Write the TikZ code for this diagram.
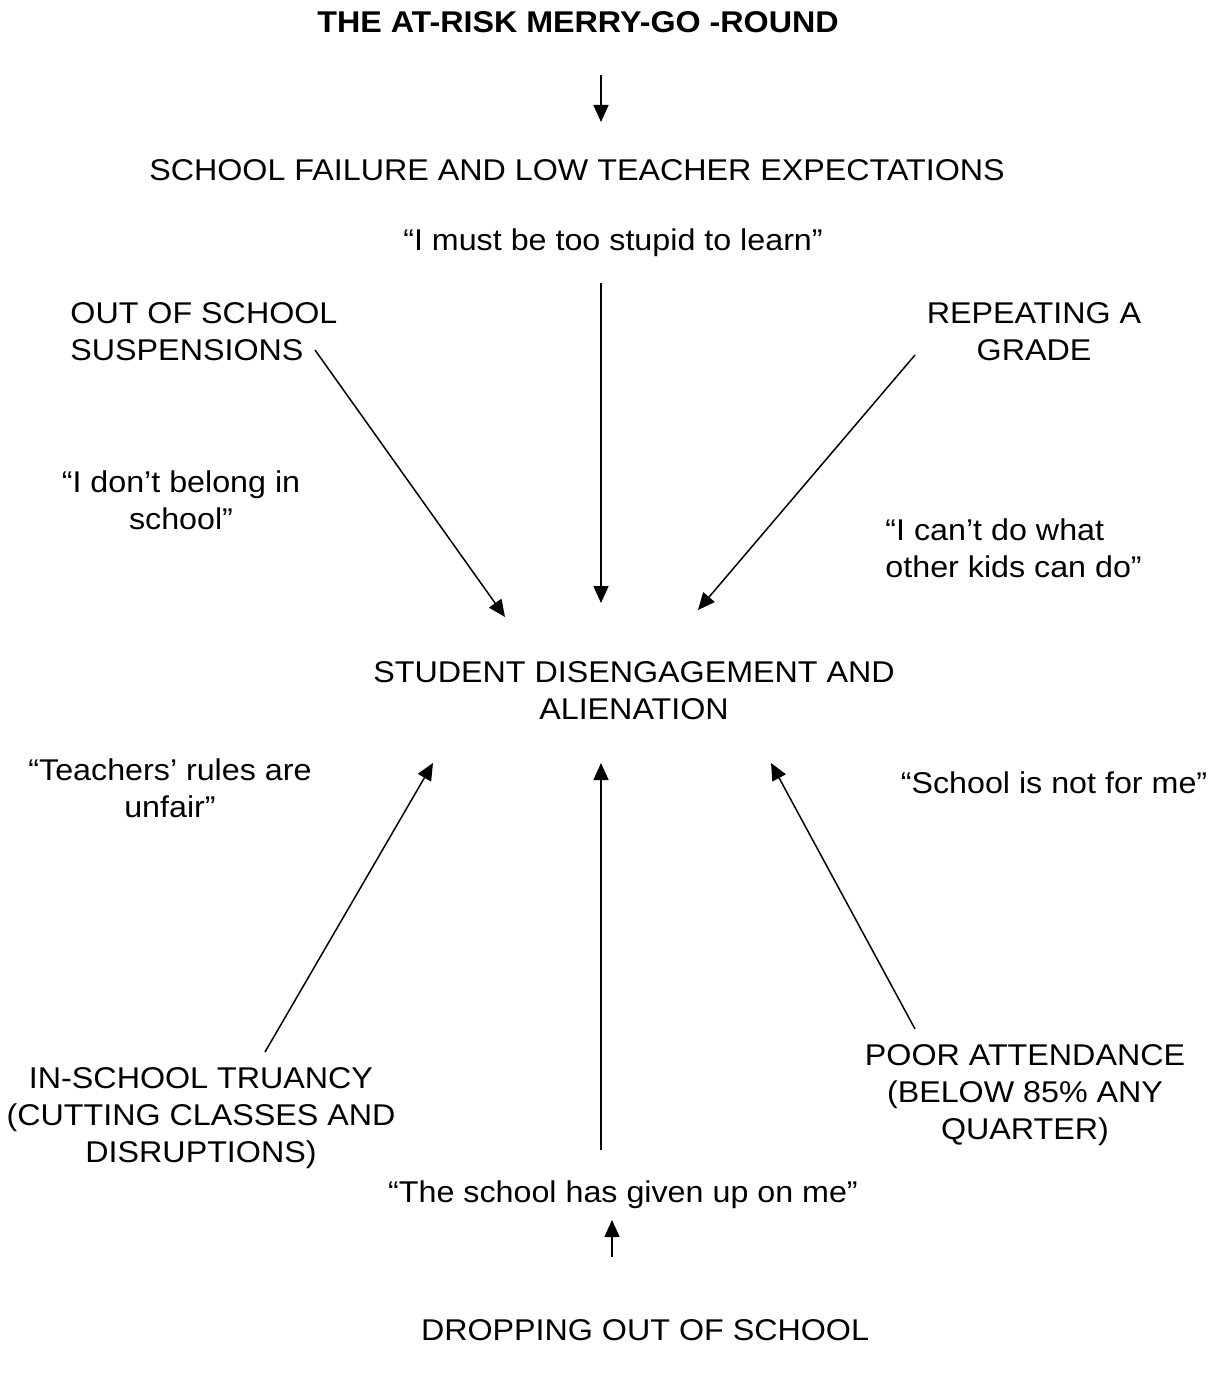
\documentclass[tikz,border=0pt]{standalone}
\usepackage{fontspec}
\setmainfont{Liberation Sans}
\usetikzlibrary{arrows.meta}

\tikzset{
  lbl/.style={font=\fontsize{15}{18.5}\selectfont, xscale=1.075, inner sep=0pt, align=center},
  flow/.style={line width=0.75pt, -{Triangle[length=8.5pt,width=7.5pt]}}
}

\begin{document}
\begin{tikzpicture}[x=0.5pt,y=-0.5pt]
\useasboundingbox (0,0) rectangle (1217,1374);
% labels
\node[lbl, font=\fontsize{15}{18.5}\selectfont\bfseries] (title) at (578,22) {THE AT-RISK MERRY-GO -ROUND};
\node[lbl] (failure) at (577,170) {SCHOOL FAILURE AND LOW TEACHER EXPECTATIONS};
\node[lbl] (stupid) at (613,243) {“I must be too stupid to learn”};
\node[lbl, align=left, anchor=west] (suspend) at (70,332) {OUT OF SCHOOL\\SUSPENSIONS};
\node[lbl] (repeat) at (1034,332) {REPEATING A\\GRADE};
\node[lbl] (belong) at (181,500) {“I don’t belong in\\school”};
\node[lbl, align=left, anchor=west] (cant) at (885,548) {“I can’t do what\\other kids can do”};
\node[lbl] (disengage) at (634,691) {STUDENT DISENGAGEMENT AND\\ALIENATION};
\node[lbl] (unfair) at (170,788) {“Teachers’ rules are\\unfair”};
\node[lbl] (notforme) at (1054,783) {“School is not for me”};
\node[lbl] (truancy) at (201,1118) {IN-SCHOOL TRUANCY\\(CUTTING CLASSES AND\\DISRUPTIONS)};
\node[lbl] (attend) at (1025,1095) {POOR ATTENDANCE\\(BELOW 85\% ANY\\QUARTER)};
\node[lbl] (givenup) at (623,1195) {“The school has given up on me”};
\node[lbl] (dropout) at (645,1330) {DROPPING OUT OF SCHOOL};
% arrow ends
\coordinate (t0) at (601,75);   \coordinate (t1) at (601,122);
\coordinate (f0) at (601,283);  \coordinate (f1) at (601,603);
\coordinate (s0) at (315,350);  \coordinate (s1) at (505,617);
\coordinate (r0) at (915,355);  \coordinate (r1) at (698,610);
\coordinate (i0) at (265,1052); \coordinate (i1) at (433,763);
\coordinate (g0) at (601,1150); \coordinate (g1) at (601,763);
\coordinate (p0) at (915,1029); \coordinate (p1) at (771,763);
\coordinate (d0) at (612,1257); \coordinate (d1) at (612,1220);
\draw[flow] (t0) -- (t1);
\draw[flow] (f0) -- (f1);
\draw[flow] (s0) -- (s1);
\draw[flow] (r0) -- (r1);
\draw[flow] (i0) -- (i1);
\draw[flow] (g0) -- (g1);
\draw[flow] (p0) -- (p1);
\draw[flow] (d0) -- (d1);
\end{tikzpicture}
\end{document}
